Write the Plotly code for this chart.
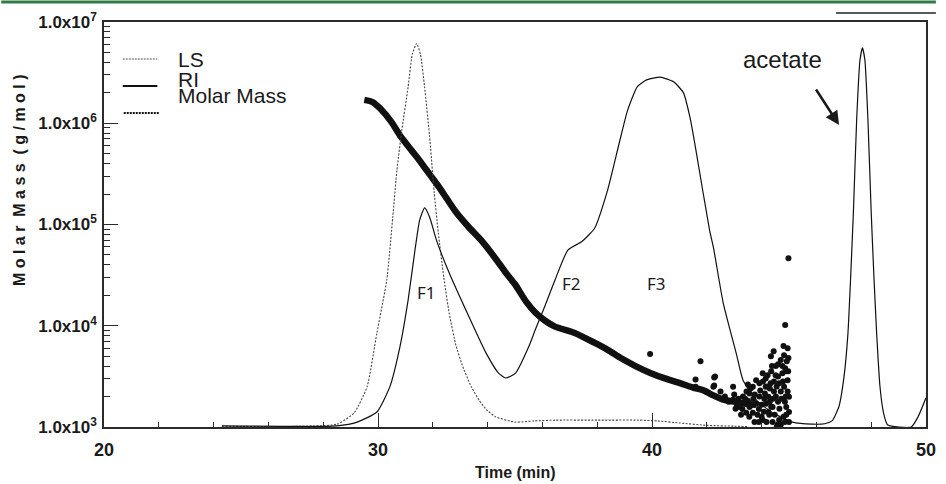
import plotly.graph_objects as go

# ---------------- data ----------------
ls_time = [24.3, 28.5, 29.13, 29.6, 29.96, 30.32, 30.54, 30.69, 30.87, 31.1, 31.25, 31.41,
           31.55, 31.7, 31.88, 32.05, 32.2, 32.4, 32.6, 32.85, 33.1, 33.4, 33.7, 34.0, 34.3,
           35.0, 35.7, 36.5, 38.0, 39.5, 40.2, 41.0, 42.0, 43.0, 43.5]
ls_signal = [0.002, 0.007, 0.035, 0.099, 0.232, 0.363, 0.519, 0.634, 0.733, 0.84, 0.92, 0.947,
             0.92, 0.84, 0.72, 0.58, 0.48, 0.37, 0.28, 0.20, 0.148, 0.10, 0.065, 0.04, 0.025,
             0.012, 0.015, 0.017, 0.017, 0.017, 0.015, 0.010, 0.004, 0.002, 0.001]

ri_time = [24.3, 28.5, 29.24, 29.96, 30.43, 30.8, 31.1, 31.35, 31.52, 31.7, 31.88, 32.13,
           32.6, 33.32, 33.94, 34.4, 34.66, 35.02, 35.5, 35.74, 36.1, 36.46, 36.93, 37.44,
           37.9, 38.38, 38.8, 39.1, 39.46, 39.8, 40.3, 40.8, 41.15, 41.4, 41.62, 42.1, 42.24,
           42.6, 43.07, 43.32, 43.8, 44.4, 45.13, 45.85, 46.3, 46.57, 46.82, 47.0, 47.15,
           47.25, 47.35, 47.47, 47.59, 47.68, 47.77, 47.88, 48.0, 48.1, 48.2, 48.32, 48.45,
           48.6, 49.46, 49.71, 50.0]
ri_signal = [0.003, 0.003, 0.012, 0.037, 0.099, 0.198, 0.314, 0.437, 0.511, 0.541, 0.519, 0.462,
             0.38, 0.272, 0.183, 0.133, 0.121, 0.133, 0.198, 0.24, 0.30, 0.363, 0.437, 0.458,
             0.49, 0.585, 0.70, 0.78, 0.84, 0.857, 0.864, 0.852, 0.825, 0.76, 0.677, 0.486, 0.444,
             0.306, 0.183, 0.116, 0.067, 0.035, 0.012, 0.007, 0.008, 0.015, 0.05, 0.12, 0.23,
             0.37, 0.53, 0.76, 0.906, 0.936, 0.906, 0.76, 0.53, 0.37, 0.23, 0.10, 0.035,
             0.005, 0.0, 0.025, 0.072]

mm_time = [29.5, 29.8, 30.1, 30.5, 30.8, 31.2, 31.52, 31.9, 32.2, 32.5, 32.85, 33.3, 33.8,
           34.3, 34.7, 35.0, 35.4, 35.74, 36.1, 36.46, 37.18, 37.9, 38.4, 38.86, 39.4, 39.96,
           40.5, 41.05, 41.5, 41.88, 42.24, 42.6, 43.0, 43.43, 43.8]
mm_value = [1.70e6, 1.62e6, 1.38e6, 1.02e6, 7.6e5, 5.5e5, 4.27e5, 3.09e5, 2.40e5, 1.82e5,
            1.32e5, 9.5e4, 6.8e4, 4.57e4, 3.24e4, 2.57e4, 1.74e4, 1.35e4, 1.12e4, 9.8e3,
            8.5e3, 6.8e3, 5.75e3, 4.8e3, 4.0e3, 3.4e3, 3.0e3, 2.7e3, 2.45e3, 2.3e3, 2.05e3,
            1.86e3, 1.78e3, 1.70e3, 1.66e3]

mm_scatter_time = [44.98, 44.86, 44.95, 44.44, 44.34, 44.98, 44.38, 44.86, 44.04, 43.80, 44.51,
                   44.76, 44.15, 44.64, 44.88, 43.68, 43.74, 44.04, 44.28, 44.64, 45.0, 44.70,
                   42.30, 42.24, 42.96, 43.32, 43.56, 43.92, 43.56, 43.80, 43.20, 44.52, 44.16,
                   44.40, 44.82, 44.95, 44.33, 43.92, 43.68, 44.52, 44.76, 44.70, 44.82, 44.22,
                   43.44, 44.58, 44.0, 42.96, 42.66, 44.64, 39.93, 41.77, 41.59, 41.59, 42.27,
                   42.27, 43.1, 43.3, 43.5, 43.7, 43.9, 44.1, 44.3, 44.45, 44.6, 44.7, 44.9,
                   44.8, 44.4, 44.2, 44.05, 43.65, 43.4, 44.9, 44.6, 44.25, 45.0, 44.95,
                   43.05, 43.15, 43.25, 43.35, 43.45, 43.55, 43.6, 43.75, 43.85, 43.95, 44.0,
                   44.08, 44.12, 44.18, 44.25, 44.35, 44.35, 44.42, 44.48, 44.55, 44.6, 44.65,
                   44.72, 44.78, 44.85, 44.9, 44.92, 44.97, 45.0, 44.8, 44.45, 44.3, 43.9,
                   44.15, 43.5, 42.8, 42.5, 43.0, 44.55, 44.85]
mm_scatter_value = [46400, 10200, 6000, 5600, 5000, 4800, 4000, 3800, 3400, 2900, 3240,
                    3400, 2500, 2700, 2000, 1380, 1120, 1170, 1320, 1170, 1410, 1050,
                    3160, 2500, 2500, 2000, 2140, 2000, 1580, 1700, 1580, 2000, 1700,
                    1580, 2500, 2900, 2700, 2700, 2500, 4000, 4000, 4600, 5100, 3240,
                    1380, 1050, 1260, 1860, 2000, 1020, 5250, 4470, 2950, 2500, 3090,
                    2570, 1660, 1510, 1820, 1900, 1510, 1900, 1780, 2240, 1780, 2240, 1580,
                    1260, 1120, 2510, 2820, 1660, 1900, 3550, 3160, 1410, 1120, 2240,
                    1514, 1905, 1318, 1738, 2239, 1259, 2399, 2089, 1318, 2291, 1660,
                    1413, 2138, 1122, 1995, 1585, 3548, 1905, 1318, 2512, 4169, 1514,
                    1905, 2818, 1778, 1318, 4467, 3548, 1995, 6310, 2818, 2399, 1122,
                    3020, 2630, 1778, 2239, 2089, 1000, 1122]

x_major = [20, 30, 40, 50]
x_minor = [22, 24, 26, 28, 32, 34, 36, 38, 42, 44, 46, 48]
y_major = [1e3, 1e4, 1e5, 1e6, 1e7]
y_major_text = ["<b>1.0x10<sup>%d</sup></b>" % e for e in (3, 4, 5, 6, 7)]
y_minor = [k * 10 ** e for e in (3, 4, 5, 6) for k in range(2, 10)]

legend_names = ["LS", "RI", "Molar Mass"]
peak_labels = ["F1", "F2", "F3"]
peak_label_time = [31.77, 37.08, 40.18]

# ---------------- figure ----------------
W, H = 946, 484
L, R, T, B = 104, 10, 22, 57
PW, PH = W - L - R, H - T - B


def px(xp):
    return (xp - L) / PW


def py(yp):
    return (H - B - yp) / PH


AX = "#2b2b2b"
FONT = "Liberation Sans, Arial, sans-serif"

fig = go.Figure()

fig.add_trace(go.Scatter(x=ls_time, y=ls_signal, yaxis="y2", mode="lines",
                         line=dict(color="#444444", width=1.1, dash="2px,1.5px", shape="spline", smoothing=0.5),
                         name=legend_names[0], showlegend=False))
fig.add_trace(go.Scatter(x=ri_time, y=ri_signal, yaxis="y2", mode="lines",
                         line=dict(color="#111111", width=1.2, shape="spline", smoothing=0.5),
                         name=legend_names[1], showlegend=False))
fig.add_trace(go.Scatter(x=mm_time, y=mm_value, mode="lines",
                         line=dict(color="#111111", width=6.5, shape="spline", smoothing=0.6),
                         name=legend_names[2], showlegend=False))
fig.add_trace(go.Scatter(x=mm_scatter_time, y=mm_scatter_value, mode="markers",
                         marker=dict(color="#111111", size=6, symbol="circle"),
                         name=legend_names[2] + " points", showlegend=False))

fig.update_layout(
    width=W, height=H,
    margin=dict(l=L, r=R, t=T, b=B),
    paper_bgcolor="white", plot_bgcolor="white",
    font=dict(family=FONT, color="#1a1a1a"),
    showlegend=False,
    xaxis=dict(range=[20, 50], tickmode="array", tickvals=x_major,
               ticktext=["<b>%d</b>" % v for v in x_major],
               ticks="inside", ticklen=14, tickwidth=1.3, tickcolor=AX,
               minor=dict(tickmode="array", tickvals=x_minor, ticks="inside", ticklen=5,
                          tickwidth=1.2, tickcolor=AX, showgrid=False),
               showline=True, linecolor=AX, linewidth=1.5, mirror=True,
               showgrid=False, zeroline=False,
               tickfont=dict(size=18, family=FONT, color="#1a1a1a"),
               ticklabelstandoff=6),
    yaxis=dict(type="log", range=[3, 7], tickmode="array", tickvals=y_major,
               ticktext=y_major_text,
               ticks="inside", ticklen=14, tickwidth=1.3, tickcolor=AX,
               minor=dict(tickmode="array", tickvals=y_minor, ticks="inside", ticklen=6,
                          tickwidth=1.2, tickcolor=AX, showgrid=False),
               showline=True, linecolor=AX, linewidth=1.5, mirror=True,
               showgrid=False, zeroline=False,
               tickfont=dict(size=17, family=FONT, color="#1a1a1a"),
               ticklabelstandoff=2),
    yaxis2=dict(overlaying="y", range=[0, 1], visible=False, fixedrange=True),
)

shapes = []
# decorative top rules of the page
shapes.append(dict(type="line", xref="paper", yref="paper", x0=px(0), x1=px(W), y0=py(2), y1=py(2),
                   line=dict(color="#2f7a45", width=3)))
shapes.append(dict(type="line", xref="paper", yref="paper", x0=px(845), x1=px(W), y0=py(13), y1=py(13),
                   line=dict(color="#222222", width=1.5)))
# legend samples
shapes.append(dict(type="line", xref="paper", yref="paper", x0=px(123), x1=px(158), y0=py(59), y1=py(59),
                   line=dict(color="#555555", width=1.2, dash="2px,1px")))
shapes.append(dict(type="line", xref="paper", yref="paper", x0=px(123), x1=px(158), y0=py(86), y1=py(86),
                   line=dict(color="#111111", width=2)))
shapes.append(dict(type="line", xref="paper", yref="paper", x0=px(124), x1=px(160), y0=py(113), y1=py(113),
                   line=dict(color="#111111", width=2.2, dash="2px,1px")))
fig.update_layout(shapes=shapes)

ann = []
for name, yc in zip(legend_names, (60, 79, 96)):
    ann.append(dict(text=name, xref="paper", yref="paper", x=px(177), y=py(yc),
                    xanchor="left", yanchor="middle", showarrow=False,
                    font=dict(size=21, family=FONT, color="#1a1a1a")))
for lab, t, yc in zip(peak_labels, peak_label_time, (292, 283, 283)):
    ann.append(dict(text=lab, xref="x", yref="paper", x=t, y=py(yc),
                    xanchor="center", yanchor="middle", showarrow=False,
                    font=dict(size=17, family="Noto Sans, sans-serif", color="#1a1a1a")))
ann.append(dict(text="acetate", xref="paper", yref="paper", x=px(791), y=py(60),
                xanchor="center", yanchor="middle", showarrow=False,
                font=dict(size=24, family=FONT, color="#1a1a1a")))
ann.append(dict(text="", xref="paper", yref="paper", x=px(848), y=py(125),
                axref="pixel", ayref="pixel", ax=-24, ay=-37, showarrow=True,
                arrowhead=2, arrowsize=1.1, arrowwidth=2.5, arrowcolor="#1a1a1a"))
ann.append(dict(text="<b>Time (min)</b>", xref="paper", yref="paper", x=px(521), y=py(472),
                xanchor="center", yanchor="middle", showarrow=False,
                font=dict(size=16, family=FONT, color="#1a1a1a")))
ann.append(dict(text="<b>M o l a r\u00a0\u00a0M a s s\u00a0\u00a0( g / m o l )</b>",
                xref="paper", yref="paper", x=px(18), y=py(180), textangle=-90,
                xanchor="center", yanchor="middle", showarrow=False,
                font=dict(size=16, family=FONT, color="#1a1a1a")))
fig.update_layout(annotations=ann)

fig.write_html("out.html", config={"displayModeBar": False},
               post_script="document.body.style.margin='0';document.body.style.overflow='hidden';")
